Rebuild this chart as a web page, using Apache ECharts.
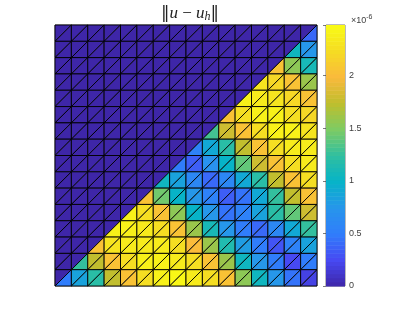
<!DOCTYPE html>
<html><head><meta charset="utf-8">
<style>html,body{margin:0;padding:0;background:#fff}#c{width:407px;height:322px}</style>
<script src="https://cdn.jsdelivr.net/npm/echarts@6/dist/echarts.min.js"></script>
</head><body><div id="c"></div>
<script>
// Error per mesh cell (×10^-6); row 0 is the top row, columns run left to right.
const cellValues = [
[0,0,0,0,0,0,0,0,0,0,0,0,0,0,0,.4],
[0,0,0,0,0,0,0,0,0,0,0,0,0,0,1.05,.75],
[0,0,0,0,0,0,0,0,0,0,0,0,0,2.05,1.55,1.1],
[0,0,0,0,0,0,0,0,0,0,0,0,2.3,2.2,2.05,1.6],
[0,0,0,0,0,0,0,0,0,0,0,2.4,2.35,2.3,2.2,2.05],
[0,0,0,0,0,0,0,0,0,0,2.05,2.25,2.4,2.4,2.25,2.2],
[0,0,0,0,0,0,0,0,0,1.3,1.8,2.05,2.25,2.4,2.4,2.3],
[0,0,0,0,0,0,0,0,.55,.9,1.2,1.75,2.05,2.25,2.35,2.35],
[0,0,0,0,0,0,0,.5,.35,.7,1.0,1.4,1.8,2.05,2.25,2.35],
[0,0,0,0,0,0,1.05,.85,.6,.4,.6,.9,1.2,1.75,2.05,2.25],
[0,0,0,0,0,2.05,1.45,1.0,.75,.55,.35,.45,.9,1.25,1.75,2.05],
[0,0,0,0,2.4,2.25,2.05,1.55,1.0,.75,.45,.55,.85,1.2,1.4,1.8],
[0,0,0,2.4,2.4,2.35,2.25,2.05,1.6,1.1,.75,.5,.4,.6,.9,1.25],
[0,0,2.05,2.3,2.35,2.35,2.35,2.25,2.0,1.6,1.15,.8,.5,.3,.55,.85],
[0,1.25,1.75,2.05,2.25,2.4,2.4,2.35,2.25,2.05,1.6,1.05,.75,.5,.25,.5],
[.5,.85,1.2,1.75,2.05,2.25,2.4,2.45,2.35,2.25,2.05,1.55,1.05,.75,.45,.2]
];
const colorMax = 2.48;
const colorTicks = [0, 0.5, 1, 1.5, 2];
const parula = ['#3e26a8','#4749f3','#307dfb','#2796eb','#06b3c8','#30bfa0','#7dcb64','#bebe2d','#fab93c','#f5dc23','#f9fb14'];

const triData = [];
cellValues.forEach((row, r) => row.forEach((v, c) => {
  const onDiagonal = v > 0 && (c === 0 || row[c - 1] === 0);
  triData.push([c, r, 0, onDiagonal ? 0 : v]);   // upper-left triangle
  triData.push([c, r, 1, v]);                    // lower-right triangle
}));
const barData = [];
for (let i = 0; i < 64; i++) barData.push([i / 64 * colorMax, (i + 1) / 64 * colorMax, (i + .5) / 64 * colorMax]);

const chart = echarts.init(document.getElementById('c'), null, {renderer: 'canvas'});
chart.setOption({
  animation: false,
  title: [{
    text: '{b|‖}{i|u}{a| − }{i|u}{s|h}{b|‖}',
    left: 185, top: 0, textAlign: 'center',
    textStyle: {fontWeight: 'normal', rich: {
      b: {fontFamily: 'DejaVu Serif', fontWeight: 'normal', fontSize: 17, color: '#222'},
      a: {fontFamily: 'Liberation Serif', fontWeight: 'normal', fontSize: 17, color: '#222'},
      i: {fontFamily: 'Liberation Serif', fontWeight: 'normal', fontStyle: 'italic', fontSize: 17, color: '#222'},
      s: {fontFamily: 'Liberation Serif', fontWeight: 'normal', fontStyle: 'italic', fontSize: 12, color: '#222', padding: [6, 0, 0, 0]}
    }}
  }, {
    text: '{a|×10}{b|-6}',
    left: 346, top: 8,
    textStyle: {fontWeight: 'normal', rich: {
      a: {fontFamily: 'Liberation Sans', fontWeight: 'normal', fontSize: 9, color: '#404040', padding: [3, 0, 0, 0]},
      b: {fontFamily: 'Liberation Sans', fontWeight: 'normal', fontSize: 7, color: '#404040', padding: [0, 0, 3, 0]}
    }}
  }],
  grid: [
    {left: 55, top: 25, width: 262, height: 261, show: true, borderColor: '#666', borderWidth: 1, backgroundColor: 'transparent'},
    {left: 326, top: 25, width: 19, height: 261, show: true, borderColor: '#777', borderWidth: 1, backgroundColor: 'transparent'}
  ],
  xAxis: [
    {gridIndex: 0, type: 'value', min: 0, max: 16, show: false},
    {gridIndex: 1, type: 'value', min: 0, max: 1, show: false}
  ],
  yAxis: [
    {gridIndex: 0, type: 'value', min: 0, max: 16, inverse: true, show: false},
    {gridIndex: 1, type: 'value', min: 0, max: colorMax, interval: 0.5, position: 'right',
     axisLine: {show: false}, splitLine: {show: false},
     axisTick: {show: true, inside: true, length: 3, lineStyle: {color: '#444', width: 0.7}},
     axisLabel: {margin: 4, fontFamily: 'Liberation Sans', fontSize: 9, color: '#404040',
       formatter: v => colorTicks.includes(v) ? String(v) : ''}}
  ],
  visualMap: {show: false, type: 'continuous', min: 0, max: colorMax, dimension: 3, seriesIndex: [0], inRange: {color: parula}},
  series: [{
    type: 'custom', xAxisIndex: 0, yAxisIndex: 0, clip: false,
    data: triData,
    dimensions: ['c', 'r', 'kind', 'v'],
    encode: {x: 0, y: 1},
    renderItem(params, api) {
      const c = api.value(0), r = api.value(1), k = api.value(2);
      const corners = k === 0 ? [[c, r + 1], [c, r], [c + 1, r]] : [[c, r + 1], [c + 1, r + 1], [c + 1, r]];
      return {type: 'polygon', shape: {points: corners.map(p => api.coord(p))},
        style: {fill: api.visual('color'), stroke: '#000', lineWidth: 0.9}};
    }
  }, {
    type: 'custom', xAxisIndex: 1, yAxisIndex: 1, silent: true,
    data: barData,
    encode: {y: [0, 1]},
    renderItem(params, api) {
      const a = api.coord([0, api.value(0)]), b = api.coord([1, api.value(1)]);
      const t = api.value(2) / colorMax;
      const n = parula.length - 1, i = Math.min(n - 1, Math.floor(t * n));
      const color = echarts.color.lerp(t * n - i, [parula[i], parula[i + 1]]);
      return {type: 'rect', shape: {x: a[0], y: b[1], width: b[0] - a[0], height: a[1] - b[1] + 0.5}, style: {fill: color}};
    }
  }]
});
</script></body></html>
